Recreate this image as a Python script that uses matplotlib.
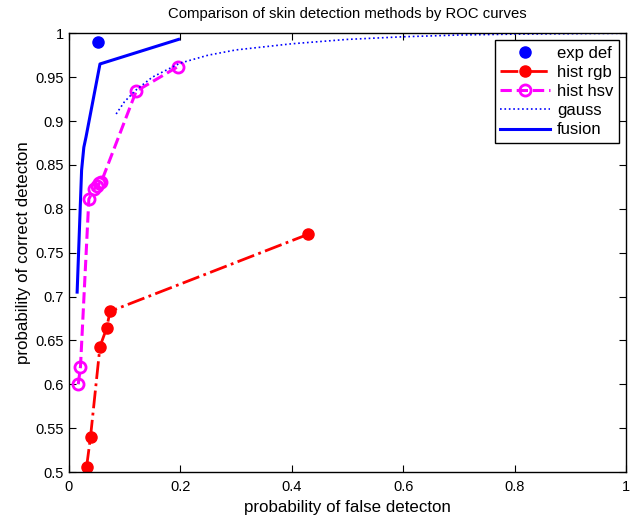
import matplotlib
matplotlib.use("Agg")
import matplotlib.pyplot as plt

# values
exp_def_x = [0.052]
exp_def_y = [0.990]

hist_rgb_x = [0.032, 0.039, 0.056, 0.068, 0.074, 0.430]
hist_rgb_y = [0.506, 0.540, 0.643, 0.664, 0.683, 0.771]

hist_hsv_x = [0.017, 0.021, 0.036, 0.045, 0.050, 0.055, 0.058, 0.121, 0.196]
hist_hsv_y = [0.600, 0.620, 0.811, 0.822, 0.826, 0.829, 0.830, 0.934, 0.962]

gauss_x = [0.085, 0.10, 0.12, 0.15, 0.20, 0.25, 0.30, 0.40, 0.50, 0.60, 0.70, 0.80, 0.90, 1.00]
gauss_y = [0.908, 0.922, 0.935, 0.950, 0.966, 0.975, 0.981, 0.988, 0.993, 0.996, 0.998, 0.999, 0.9995, 1.0]

fusion_x = [0.015, 0.023, 0.027, 0.031, 0.056, 0.197]
fusion_y = [0.705, 0.844, 0.870, 0.882, 0.965, 0.993]

x_ticks = [0, 0.2, 0.4, 0.6, 0.8, 1]
y_ticks = [0.5, 0.55, 0.6, 0.65, 0.7, 0.75, 0.8, 0.85, 0.9, 0.95, 1]

plt.rcParams["font.family"] = ["Liberation Sans", "DejaVu Sans"]
plt.rcParams["font.size"] = 10

fig = plt.figure(figsize=(6.31, 5.18), dpi=100)
ax = fig.add_axes([0.109, 0.0888, 0.883, 0.847])

ax.plot(exp_def_x, exp_def_y, "o", color="#0000ff", ms=8, label="exp def")
ax.plot(hist_rgb_x, hist_rgb_y, "-.", color="#ff0000", lw=2, marker="o", ms=8, label="hist rgb")
ax.plot(hist_hsv_x, hist_hsv_y, "--", color="#ff00ff", lw=2.2, marker="o", ms=8,
        mfc="none", mew=2, label="hist hsv")
ax.plot(gauss_x, gauss_y, ":", color="#0000ff", lw=1.2, label="gauss")
ax.plot(fusion_x, fusion_y, "-", color="#0000ff", lw=2.2, label="fusion")

ax.set_xlim(0, 1)
ax.set_ylim(0.5, 1)
ax.set_xticks(x_ticks)
ax.set_xticklabels(["0", "0.2", "0.4", "0.6", "0.8", "1"])
ax.set_yticks(y_ticks)
ax.set_yticklabels(["0.5", "0.55", "0.6", "0.65", "0.7", "0.75", "0.8", "0.85", "0.9", "0.95", "1"])
ax.tick_params(direction="in", top=True, right=True, length=5, width=0.8, labelsize=10.5)
ax.tick_params(axis="x", pad=6)
for s in ax.spines.values():
    s.set_linewidth(1.0)

ax.set_title("Comparison of skin detection methods by ROC curves", fontsize=10.7, pad=11)
ax.set_xlabel("probability of false detecton", fontsize=12.2, labelpad=4)
ax.set_ylabel("probability of correct detecton", fontsize=12.2, labelpad=3)

leg = ax.legend(loc="upper right", fontsize=12, fancybox=False, framealpha=1,
                edgecolor="black", handlelength=3.0, borderaxespad=0.4,
                labelspacing=0.25, handletextpad=0.4, borderpad=0.35)
leg.get_frame().set_linewidth(1.0)

fig.savefig("out.png", dpi=100)
